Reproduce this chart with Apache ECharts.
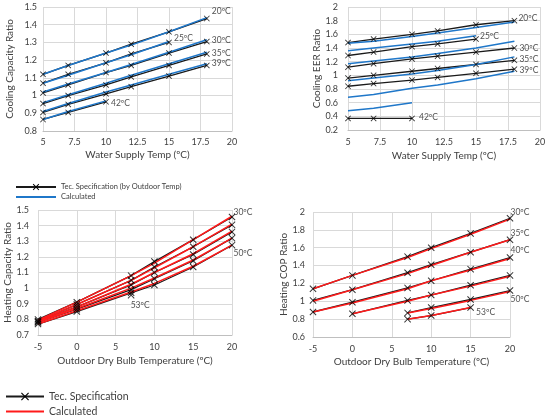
<!DOCTYPE html>
<html><head><meta charset="utf-8">
<script src="https://cdn.jsdelivr.net/npm/echarts@6.0.0/dist/echarts.min.js"></script>
<style>html,body{margin:0;padding:0;background:#fff}#c{width:550px;height:419px}</style>
</head><body><div id="c"></div>
<script>
// ---------- DATA ----------
// Cooling (water supply temp on x)
const coolX6 = [5, 7, 10, 12, 15, 18];
const coolX5 = [5, 7, 10, 12, 15];
const coolX3 = [5, 7, 10];
const coolTemps = ['20ºC', '25ºC', '30ºC', '35ºC', '39ºC', '42ºC'];
const coolXTicks = [5, 7.5, 10, 12.5, 15, 17.5, 20];

// Cooling capacity ratio
const ccYTicks = [0.8, 0.9, 1, 1.1, 1.2, 1.3, 1.4, 1.5];
const ccSpec20 = [1.12, 1.17, 1.24, 1.29, 1.36, 1.435];
const ccSpec25 = [1.07, 1.12, 1.185, 1.235, 1.30];
const ccSpec30 = [1.015, 1.06, 1.13, 1.17, 1.24, 1.305];
const ccSpec35 = [0.955, 1.0, 1.06, 1.105, 1.17, 1.235];
const ccSpec39 = [0.905, 0.95, 1.01, 1.05, 1.11, 1.17];
const ccSpec42 = [0.865, 0.905, 0.965];
const ccCalc20 = [1.12, 1.17, 1.24, 1.285, 1.36, 1.44];
const ccCalc25 = [1.07, 1.115, 1.185, 1.23, 1.305];
const ccCalc30 = [1.02, 1.065, 1.13, 1.175, 1.245, 1.315];
const ccCalc35 = [0.96, 1.005, 1.07, 1.115, 1.18, 1.245];
const ccCalc39 = [0.91, 0.955, 1.02, 1.06, 1.12, 1.18];
const ccCalc42 = [0.865, 0.91, 0.97];

// Cooling EER ratio
const eerYTicks = [0.2, 0.4, 0.6, 0.8, 1, 1.2, 1.4, 1.6, 1.8, 2];
const eerSpec20 = [1.48, 1.53, 1.60, 1.65, 1.74, 1.80];
const eerSpec25 = [1.29, 1.34, 1.42, 1.46, 1.53];
const eerSpec30 = [1.12, 1.17, 1.24, 1.28, 1.34, 1.40];
const eerSpec35 = [0.96, 1.00, 1.06, 1.10, 1.16, 1.22];
const eerSpec39 = [0.84, 0.88, 0.93, 0.97, 1.03, 1.09];
const eerSpec42 = [0.37, 0.37, 0.37];
const eerCalc20 = [1.47, 1.50, 1.57, 1.62, 1.70, 1.78];
const eerCalc25 = [1.36, 1.40, 1.46, 1.50, 1.58];
const eerCalc30 = [1.17, 1.21, 1.27, 1.32, 1.40, 1.50];
const eerCalc35 = [0.92, 0.96, 1.02, 1.07, 1.16, 1.27];
const eerCalc39 = [0.68, 0.72, 0.81, 0.86, 0.95, 1.06];
const eerCalc42 = [0.48, 0.52, 0.60];

// Heating (outdoor dry bulb temp on x)
const heatX6 = [-5, 0, 7, 10, 15, 20];
const heatX5 = [0, 7, 10, 15, 20];
const heatX4 = [7, 10, 15, 20];
const heatX3 = [7, 10, 15];
const heatX1 = [7];
const heatTemps = ['30ºC', '35ºC', '40ºC', '45ºC', '50ºC', '53ºC'];
const heatXTicks = [-5, 0, 5, 10, 15, 20];

// Heating capacity ratio
const hcYTicks = [0.7, 0.8, 0.9, 1, 1.1, 1.2, 1.3, 1.4, 1.5];
const hcSpec30 = [0.80, 0.91, 1.08, 1.17, 1.31, 1.455];
const hcSpec35 = [0.79, 0.895, 1.05, 1.135, 1.265, 1.405];
const hcSpec40 = [0.785, 0.88, 1.02, 1.10, 1.215, 1.36];
const hcSpec45 = [0.78, 0.865, 0.99, 1.06, 1.175, 1.32];
const hcSpec50 = [0.77, 0.85, 0.97, 1.02, 1.135, 1.275];
const hcSpec53 = [0.955];
const hcCalc30 = [0.795, 0.91, 1.08, 1.16, 1.31, 1.46];
const hcCalc35 = [0.79, 0.895, 1.05, 1.13, 1.265, 1.41];
const hcCalc40 = [0.785, 0.88, 1.025, 1.10, 1.22, 1.365];
const hcCalc45 = [0.78, 0.87, 1.0, 1.065, 1.18, 1.32];
const hcCalc50 = [0.77, 0.855, 0.975, 1.03, 1.14, 1.275];

// Heating COP ratio
const copYTicks = [0.6, 0.8, 1, 1.2, 1.4, 1.6, 1.8, 2];
const copSpec30 = [1.14, 1.29, 1.50, 1.60, 1.76, 1.93];
const copSpec35 = [1.01, 1.13, 1.32, 1.41, 1.55, 1.69];
const copSpec40 = [0.88, 0.99, 1.15, 1.23, 1.36, 1.49];
const copSpec45 = [0.86, 1.01, 1.07, 1.18, 1.29];
const copSpec50 = [0.87, 0.93, 1.02, 1.12];
const copSpec53 = [0.80, 0.84, 0.93];
const copCalc30 = [1.14, 1.29, 1.49, 1.59, 1.75, 1.92];
const copCalc35 = [1.00, 1.13, 1.31, 1.40, 1.55, 1.69];
const copCalc40 = [0.88, 0.98, 1.14, 1.23, 1.35, 1.48];
const copCalc45 = [0.86, 1.00, 1.07, 1.17, 1.28];
const copCalc50 = [0.87, 0.92, 1.01, 1.11];
const copCalc53 = [0.80, 0.84, 0.93];

// ---------- STYLE / BUILD ----------
const FONT = 'Lato';
const TXT = '#404040';
const LBL = '#262626';
const X_PATH = 'path://M1,0L5,4L9,0L10,1L6,5L10,9L9,10L5,6L1,10L0,9L4,5L0,1Z';
const SPEC_TOP = 'Tec. Specification (by Outdoor Temp)';
const SPEC_BOT = 'Tec. Specification';
const CALC_TOP = 'Calculated';
const CALC_BOT = 'Calculated ';

const grids = [
  {left: 43, top: 7, width: 189, height: 124},
  {left: 348, top: 7, width: 192, height: 123},
  {left: 38, top: 210, width: 194, height: 125},
  {left: 313, top: 212, width: 197, height: 125}
];

function step(t) { return +(t[1] - t[0]).toFixed(6); }
function xAx(gi, ticks, name, margin, nameGap) {
  return {type: 'value', gridIndex: gi, min: ticks[0], max: ticks[ticks.length - 1], interval: step(ticks),
    name: name, nameLocation: 'middle', nameGap: nameGap,
    nameTextStyle: {fontFamily: FONT, fontSize: 10, color: TXT},
    axisLine: {show: true, onZero: false, lineStyle: {color: '#bfbfbf', width: 1}},
    axisTick: {show: false},
    axisLabel: {margin: margin, fontFamily: FONT, fontSize: 9, color: TXT, showMinLabel: true, showMaxLabel: true},
    splitLine: {show: true, lineStyle: {color: '#d9d9d9', width: 1}}};
}
function yAx(gi, ticks, name, margin, nameGap) {
  return {type: 'value', gridIndex: gi, min: ticks[0], max: ticks[ticks.length - 1], interval: step(ticks),
    name: name, nameLocation: 'middle', nameGap: nameGap, nameRotate: 90,
    nameTextStyle: {fontFamily: FONT, fontSize: 10, color: TXT},
    axisLine: {show: false}, axisTick: {show: false},
    axisLabel: {margin: margin, fontFamily: FONT, fontSize: 9, color: TXT, showMinLabel: true, showMaxLabel: true},
    splitLine: {show: true, lineStyle: {color: '#d9d9d9', width: 1}}};
}
function pairs(xs, ys) { return ys.map((y, i) => [xs[i], y]); }

const series = [];
function addPanel(gi, specName, calcName, calcColor, mSize, lines) {
  lines.forEach(L => {
    if (L.spec.length > 1) {
      series.push({type: 'line', name: specName, xAxisIndex: gi, yAxisIndex: gi, data: pairs(L.sx, L.spec),
        symbol: X_PATH, showSymbol: false, symbolSize: mSize, itemStyle: {color: '#000'},
        lineStyle: {color: '#1a1a1a', width: 1.3}, z: 2, silent: true, animation: false});
    }
    if (L.calc) {
      series.push({type: 'line', name: calcName, xAxisIndex: gi, yAxisIndex: gi, data: pairs(L.cx, L.calc),
        symbol: 'none', lineStyle: {color: calcColor, width: 1.5}, z: 3, silent: true, animation: false});
    }
    const pts = pairs(L.sx, L.spec).map((p, i, arr) => {
      if (i === arr.length - 1 && L.label) {
        return {value: p, label: Object.assign({show: true, formatter: L.label, distance: 2,
          fontFamily: FONT, fontSize: 8.5, color: LBL}, L.lbl)};
      }
      return {value: p};
    });
    series.push({type: 'scatter', xAxisIndex: gi, yAxisIndex: gi, data: pts, symbol: X_PATH, symbolSize: mSize,
      itemStyle: {color: '#000'}, z: 4, silent: true, animation: false});
  });
}

const BLUE = '#1f77c9';
const RED = '#ff1a1a';
addPanel(0, SPEC_TOP, CALC_TOP, BLUE, 6, [
  {sx: coolX6, spec: ccSpec20, cx: coolX6, calc: ccCalc20, label: coolTemps[0], lbl: {position: 'right', offset: [0, -7]}},
  {sx: coolX5, spec: ccSpec25, cx: coolX5, calc: ccCalc25, label: coolTemps[1], lbl: {position: 'right', offset: [0, -4]}},
  {sx: coolX6, spec: ccSpec30, cx: coolX6, calc: ccCalc30, label: coolTemps[2], lbl: {position: 'right', offset: [0, -1]}},
  {sx: coolX6, spec: ccSpec35, cx: coolX6, calc: ccCalc35, label: coolTemps[3], lbl: {position: 'right', offset: [0, -1]}},
  {sx: coolX6, spec: ccSpec39, cx: coolX6, calc: ccCalc39, label: coolTemps[4], lbl: {position: 'right', offset: [0, -2]}},
  {sx: coolX3, spec: ccSpec42, cx: coolX3, calc: ccCalc42, label: coolTemps[5], lbl: {position: 'right', offset: [0, 1]}}
]);
addPanel(1, SPEC_TOP, CALC_TOP, BLUE, 6, [
  {sx: coolX6, spec: eerSpec20, cx: coolX6, calc: eerCalc20, label: coolTemps[0], lbl: {position: 'right', offset: [-1, -2]}},
  {sx: coolX5, spec: eerSpec25, cx: coolX5, calc: eerCalc25, label: coolTemps[1], lbl: {position: 'right', offset: [-1, -3]}},
  {sx: coolX6, spec: eerSpec30, cx: coolX6, calc: eerCalc30, label: coolTemps[2], lbl: {position: 'right', offset: [0, 0]}},
  {sx: coolX6, spec: eerSpec35, cx: coolX6, calc: eerCalc35, label: coolTemps[3], lbl: {position: 'right', offset: [0, -1]}},
  {sx: coolX6, spec: eerSpec39, cx: coolX6, calc: eerCalc39, label: coolTemps[4], lbl: {position: 'right', offset: [0, 1]}},
  {sx: coolX3, spec: eerSpec42, cx: coolX3, calc: eerCalc42, label: coolTemps[5], lbl: {position: 'right', offset: [2, -1]}}
]);
addPanel(2, SPEC_BOT, CALC_BOT, RED, 7, [
  {sx: heatX6, spec: hcSpec30, cx: heatX6, calc: hcCalc30, label: heatTemps[0], lbl: {position: 'right', offset: [-4, -5]}},
  {sx: heatX6, spec: hcSpec35, cx: heatX6, calc: hcCalc35},
  {sx: heatX6, spec: hcSpec40, cx: heatX6, calc: hcCalc40},
  {sx: heatX6, spec: hcSpec45, cx: heatX6, calc: hcCalc45},
  {sx: heatX6, spec: hcSpec50, cx: heatX6, calc: hcCalc50, label: heatTemps[4], lbl: {position: 'right', offset: [-4, 8]}},
  {sx: heatX1, spec: hcSpec53, label: heatTemps[5], lbl: {position: 'bottom', offset: [9, 0]}}
]);
addPanel(3, SPEC_BOT, CALC_BOT, RED, 7, [
  {sx: heatX6, spec: copSpec30, cx: heatX6, calc: copCalc30, label: heatTemps[0], lbl: {position: 'right', offset: [-5, -6]}},
  {sx: heatX6, spec: copSpec35, cx: heatX6, calc: copCalc35, label: heatTemps[1], lbl: {position: 'right', offset: [-5, -6]}},
  {sx: heatX6, spec: copSpec40, cx: heatX6, calc: copCalc40, label: heatTemps[2], lbl: {position: 'right', offset: [-5, -7]}},
  {sx: heatX5, spec: copSpec45, cx: heatX5, calc: copCalc45},
  {sx: heatX4, spec: copSpec50, cx: heatX4, calc: copCalc50, label: heatTemps[4], lbl: {position: 'right', offset: [-5, 9]}},
  {sx: heatX3, spec: copSpec53, cx: heatX3, calc: copCalc53, label: heatTemps[5], lbl: {position: 'right', offset: [0, 5]}}
]);

const option = {
  backgroundColor: '#fff',
  animation: false,
  grid: grids,
  xAxis: [
    xAx(0, coolXTicks, 'Water Supply Temp (ºC)', 6.5, 19),
    xAx(1, coolXTicks, 'Water Supply Temp (ºC)', 8, 21),
    xAx(2, heatXTicks, 'Outdoor Dry Bulb Temperature (ºC)', 7.5, 21),
    xAx(3, heatXTicks, 'Outdoor Dry Bulb Temperature (ºC)', 7.5, 19.5)
  ],
  yAxis: [
    yAx(0, ccYTicks, 'Cooling Capacity Ratio', 6, 28),
    yAx(1, eerYTicks, 'Cooling EER Ratio', 10, 25.5),
    yAx(2, hcYTicks, 'Heating Capacity Ratio', 9, 24),
    yAx(3, copYTicks, 'Heating COP Ratio', 8, 23)
  ],
  legend: [
    {left: 15, top: 183, orient: 'vertical', padding: 0, itemWidth: 40, itemHeight: 8, itemGap: 2, selectedMode: false,
      textStyle: {fontFamily: FONT, fontSize: 7.5, color: TXT, lineHeight: 8},
      data: [{name: SPEC_TOP}, {name: CALC_TOP, itemStyle: {opacity: 0}}]},
    {left: 5, top: 391, orient: 'vertical', padding: 0, itemWidth: 38, itemHeight: 10, itemGap: 4, selectedMode: false,
      textStyle: {fontFamily: FONT, fontSize: 10.5, color: TXT, lineHeight: 10},
      data: [{name: SPEC_BOT, lineStyle: {width: 2}}, {name: CALC_BOT, itemStyle: {opacity: 0}, lineStyle: {width: 2}}]}
  ],
  series: series
};
const chart = echarts.init(document.getElementById('c'));
chart.setOption(option);
</script>
</body></html>
